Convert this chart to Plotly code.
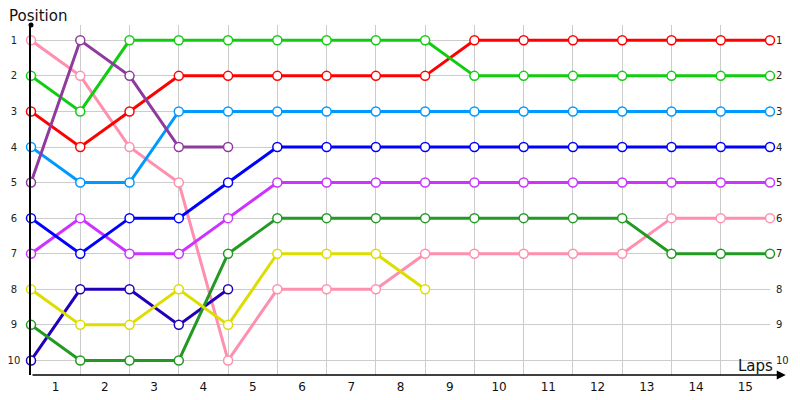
import plotly.graph_objects as go

# lap 0 is the start grid, then positions after each lap
laps = list(range(16))
lap_labels = [str(n) for n in range(1, 16)]
positions = list(range(1, 11))

red = [3, 4, 3, 2, 2, 2, 2, 2, 2, 1, 1, 1, 1, 1, 1, 1]
green = [2, 3, 1, 1, 1, 1, 1, 1, 1, 2, 2, 2, 2, 2, 2, 2]
light_blue = [4, 5, 5, 3, 3, 3, 3, 3, 3, 3, 3, 3, 3, 3, 3, 3]
blue = [6, 7, 6, 6, 5, 4, 4, 4, 4, 4, 4, 4, 4, 4, 4, 4]
violet = [7, 6, 7, 7, 6, 5, 5, 5, 5, 5, 5, 5, 5, 5, 5, 5]
dark_green = [9, 10, 10, 10, 7, 6, 6, 6, 6, 6, 6, 6, 6, 7, 7, 7]
pink = [1, 2, 4, 5, 10, 8, 8, 8, 7, 7, 7, 7, 7, 6, 6, 6]
purple = [5, 1, 2, 4, 4]
yellow = [8, 9, 9, 8, 9, 7, 7, 7, 8]
navy = [10, 8, 8, 9, 8]

series = [
    (pink, '#ff8fae'),
    (navy, '#2200bb'),
    (dark_green, '#229922'),
    (yellow, '#dddd00'),
    (violet, '#cc33ff'),
    (blue, '#0000ff'),
    (light_blue, '#0099ff'),
    (red, '#ff0000'),
    (green, '#11cc11'),
    (purple, '#8e3a9e'),
]

fig = go.Figure()
for vals, col in series:
    fig.add_trace(go.Scatter(
        x=laps[:len(vals)], y=vals, mode='lines+markers',
        line=dict(color=col, width=3),
        marker=dict(symbol='circle', size=9, color='white',
                    line=dict(color=col, width=1.5)),
        cliponaxis=False, showlegend=False, hoverinfo='skip'))

# invisible trace to carry the right-hand position labels
fig.add_trace(go.Scatter(x=[0], y=[1], yaxis='y2', mode='markers',
                         marker=dict(opacity=0), showlegend=False,
                         hoverinfo='skip'))

tick_font = dict(family='DejaVu Sans', size=10, color='#222222')
# left labels look centred in the reference, pad the single digits a bit
left_text = [str(p) if p >= 10 else str(p) + '\u2008' for p in positions]

# page body has an 8px margin, so the figure is a bit smaller than the window
fig.update_layout(
    width=792, height=392,
    margin=dict(l=23, r=30, t=17, b=25),
    plot_bgcolor='white', paper_bgcolor='white',
    xaxis=dict(
        range=[0, 15], showgrid=False, zeroline=False, automargin=False,
        tickmode='array', tickvals=[l + 0.5 for l in laps[:15]],
        ticktext=lap_labels, ticks='', ticklabelstandoff=3,
        tickfont=dict(family='DejaVu Sans', size=12, color='#111111'),
        showline=False,
        minor=dict(tickmode='array', tickvals=laps[1:], showgrid=True,
                   gridcolor='#cccccc', gridwidth=1, ticks=''),
    ),
    yaxis=dict(
        range=[10.41, 0.57], tickmode='array', tickvals=positions,
        ticktext=left_text, ticks='', automargin=False,
        showgrid=True, gridcolor='#cccccc', gridwidth=1, zeroline=False,
        showline=True, linecolor='black', linewidth=1.5,
        tickfont=tick_font, ticklabelstandoff=7,
    ),
    yaxis2=dict(
        overlaying='y', side='right', matches='y', range=[10.41, 0.57],
        tickmode='array', tickvals=positions, automargin=False,
        ticktext=[str(p) for p in positions], ticks='', showgrid=False,
        zeroline=False, showline=False, tickfont=tick_font,
        ticklabelstandoff=5,
    ),
)

# x axis with arrow
fig.add_annotation(x=15.32, y=10.41, ax=0, ay=10.41, xref='x', yref='y',
                   axref='x', ayref='y', text='', showarrow=True,
                   arrowhead=2, arrowsize=1.2, arrowwidth=1.5,
                   arrowcolor='black')
# dot at the top of the y axis
fig.add_shape(type='circle', xref='paper', yref='paper', xsizemode='pixel',
              ysizemode='pixel', xanchor=0, yanchor=1,
              x0=-2.5, x1=2.5, y0=-2.5, y1=2.5, fillcolor='black',
              line=dict(color='black', width=0))

fig.add_annotation(text='Position', xref='paper', yref='paper', x=0,
                   y=1.0, xanchor='left', yanchor='bottom', showarrow=False,
                   font=dict(family='DejaVu Sans', size=15, color='#111111'),
                   xshift=-24, yshift=-2)
fig.add_annotation(text='Laps', xref='paper', yref='paper', x=1.0,
                   y=0.0, xanchor='right', yanchor='bottom', showarrow=False,
                   font=dict(family='DejaVu Sans', size=15, color='#111111'),
                   xshift=5, yshift=-2)

fig.write_html('out.html')
